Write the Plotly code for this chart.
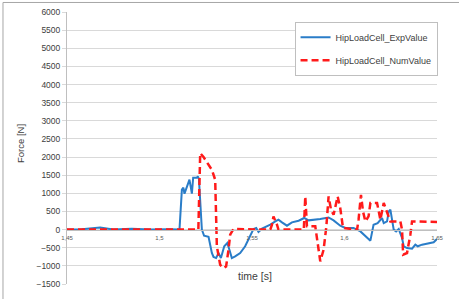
import plotly.graph_objects as go

# Experimental hip load cell force
exp_time = [1.45, 1.458, 1.4679, 1.475, 1.485, 1.495, 1.505, 1.5108, 1.5121, 1.5129,
            1.5135, 1.5162, 1.5175, 1.5182, 1.5202, 1.5207, 1.5213, 1.5229, 1.5241, 1.5265,
            1.5283, 1.5292, 1.5306, 1.5319, 1.5332, 1.5350, 1.5367, 1.5378, 1.5391, 1.5409,
            1.5436, 1.5463, 1.5487, 1.5508, 1.5523, 1.5535, 1.5554, 1.5571, 1.5599, 1.5626,
            1.5643, 1.5662, 1.5689, 1.5716, 1.5752, 1.5782, 1.5806, 1.5869, 1.5914, 1.5941,
            1.5977, 1.6004, 1.6049, 1.6086, 1.6113, 1.6140, 1.6157, 1.6179, 1.6203, 1.6212,
            1.6230, 1.6239, 1.6248, 1.6266, 1.6279, 1.6293, 1.6311, 1.6320, 1.6338, 1.6365,
            1.6383, 1.6396, 1.6419, 1.6455, 1.6482, 1.6500]
exp_force = [0, 10, 60, 0, 20, 0, 10, 0, 1100, 1155,
             990, 1376, 990, 1430, 1430, 1467, 1400, 0, -170, -200,
             -645, -755, -785, -645, -785, -460, -370, -555, -785, -740,
             -645, -460, -185, 15, 45, -65, 25, 60, 135, 225,
             275, 200, 108, 200, 245, 320, 255, 290, 335, 255,
             108, 45, 45, -50, -185, -305, 135, 180, 320, 180,
             225, 500, 550, 0, -50, 15, -230, -460, -510, -525,
             -415, -460, -415, -370, -350, -260]

# Numerical hip load cell force
num_time = [1.45, 1.5210, 1.5220, 1.5238, 1.5283, 1.5301, 1.5310, 1.5328, 1.5346, 1.5360,
            1.5373, 1.5382, 1.5400, 1.5599, 1.5608, 1.5616, 1.5635, 1.5643, 1.5780, 1.5788,
            1.5797, 1.5842, 1.5869, 1.5887, 1.5902, 1.5914, 1.5927, 1.5941, 1.5963, 1.5977,
            1.5992, 1.6068, 1.6076, 1.6089, 1.6100, 1.6113, 1.6130, 1.6140, 1.6176, 1.6194,
            1.6212, 1.6226, 1.6248, 1.6302, 1.6311, 1.6317, 1.6338, 1.6356, 1.6365, 1.6500]
num_force = [0, 0, 2110, 2000, 1650, 1375, -460, -970, -1060, -1015,
             -555, -140, 15, 0, 135, 365, 135, 0, 0, 915,
             90, 90, -875, -555, 90, 915, 550, 410, 915, 595,
             45, 0, 275, 960, 500, 225, 365, 735, 735, 275,
             735, 550, 225, 225, 0, -690, -645, -140, 225, 210]

x_tickvals = [1.45, 1.5, 1.55, 1.6, 1.65]
x_ticktext = ["1,45", "1,5", "1,55", "1,6", "1,65"]
y_tickvals = list(range(-1500, 6001, 500))

fig = go.Figure()
fig.add_trace(go.Scatter(x=exp_time, y=exp_force, mode="lines", name="HipLoadCell_ExpValue",
                         legendgroup="a",
                         line=dict(color="#2A7DC8", width=2)))
fig.add_trace(go.Scatter(x=num_time, y=num_force, mode="lines", name="HipLoadCell_NumValue",
                         legendgroup="b",
                         line=dict(color="#FF1A1A", width=2.5, dash="7px,4px")))

fig.update_layout(
    width=459, height=299,
    margin=dict(l=67, r=22, t=12, b=15, autoexpand=False),
    paper_bgcolor="white", plot_bgcolor="white",
    font=dict(family="Liberation Sans, Arial", color="#404040"),
    showlegend=True,
    legend=dict(x=0.615, y=0.964, xanchor="left", yanchor="top",
                bordercolor="#BFBFBF", borderwidth=1, bgcolor="white",
                font=dict(size=9, color="#404040"), traceorder="grouped",
                tracegroupgap=4, itemwidth=30),
    xaxis=dict(range=[1.45, 1.65], tickvals=x_tickvals, ticktext=x_ticktext,
               tickfont=dict(size=6, color="#595959"), showgrid=False,
               anchor="free", position=0.2, showline=True, linecolor="#BFBFBF",
               linewidth=1, zeroline=False, ticks="", ticklabelstandoff=2),
    yaxis=dict(range=[-1500, 6000], tickvals=y_tickvals,
               tickfont=dict(size=8.5, color="#404040"), showgrid=True,
               gridcolor="#D9D9D9", gridwidth=1, zeroline=False,
               showline=True, linecolor="#BFBFBF", linewidth=1,
               ticks="outside", ticklen=4, tickcolor="#D9D9D9"),
)

fig.add_annotation(text="time [s]", xref="paper", yref="paper", x=0.508, y=0.03,
                   showarrow=False, xanchor="center", yanchor="middle",
                   font=dict(size=10.5, color="#404040"))
fig.add_annotation(text="Force [N]", xref="paper", yref="paper", x=-0.124, y=0.515,
                   showarrow=False, textangle=-90, xanchor="center", yanchor="middle",
                   font=dict(size=9.5, color="#404040"))

# chart border (top and left visible)
fig.add_shape(type="line", xref="paper", yref="paper", x0=-0.173, x1=1.1, y0=1.035, y1=1.035,
              line=dict(color="#A6A6A6", width=1))
fig.add_shape(type="line", xref="paper", yref="paper", x0=-0.173, x1=-0.173, y0=1.035, y1=-0.1,
              line=dict(color="#A6A6A6", width=1))

fig.write_html("out.html", config={"displayModeBar": False},
               post_script="document.body.style.margin='0';document.body.style.padding='0';document.body.style.overflow='hidden';")
